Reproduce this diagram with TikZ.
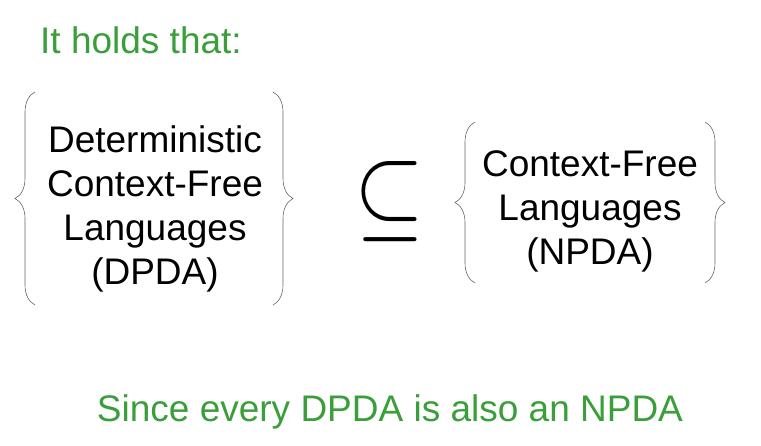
\documentclass[tikz,border=0pt]{standalone}
\usepackage{fontspec}
\usepackage{graphicx}
\setmainfont{Liberation Sans}
\usetikzlibrary{decorations.pathreplacing}
\definecolor{note_green}{HTML}{3A9E3A}
\definecolor{brace_gray}{HTML}{666666}
\begin{document}
\begin{tikzpicture}[
                x=1pt,
                y=-1pt,
                lang/.style={align=center, font=\fontsize{37}{44}\selectfont},
                note/.style={note_green, font=\fontsize{37}{44}\selectfont},
                curly/.style={brace_gray, semithick, decorate, decoration={brace, amplitude=20pt, aspect=0.5}}
            ]
            \useasboundingbox (0,0) rectangle (761,445);

            % Title
            \node[note, anchor=west, inner sep=0pt] (title) at (40,40) {It holds that:};

            % Left set
            \node[lang] (dcfl) at (155,209) {Deterministic\\Context-Free\\Languages\\(DPDA)};
            \draw[curly] (35,305) -- (35,92);
            \draw[curly] (273,92) -- (273,305);

            % Subset relation
            \node[inner sep=0pt] (subset) at (390,202) {\resizebox{70pt}{66pt}{$\subseteq$}};

            % Right set
            \node[lang] (cfl) at (590,211) {Context-Free\\Languages\\(NPDA)};
            \draw[curly] (475,283) -- (475,122);
            \draw[curly] (705,122) -- (705,283);

            % Reason
            \node[note] (reason) at (390,412) {Since every DPDA is also an NPDA};
        \end{tikzpicture}
\end{document}
